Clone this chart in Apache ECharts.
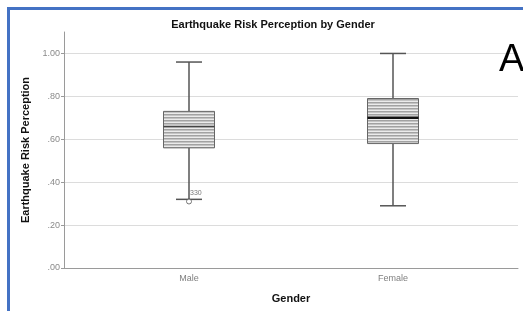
<!DOCTYPE html>
<html>
<head>
<meta charset="utf-8">
<script src="https://cdn.jsdelivr.net/npm/echarts@6/dist/echarts.min.js"></script>
<style>
  html, body { margin: 0; padding: 0; background: #fff; }
  #chart { width: 523px; height: 311px; }
</style>
</head>
<body>
<div id="chart"></div>
<script>
// 数据
const categories = ['Male', 'Female'];
// [min, q1, median, q3, max]
const boxMale = [0.32, 0.56, 0.66, 0.73, 0.96];
const boxFemale = [0.29, 0.58, 0.70, 0.79, 1.00];
const outlierValues = [0.31];
const outlierCats = [0];
const outlierLabels = ['330'];
const yTicks = [0, 0.2, 0.4, 0.6, 0.8, 1.0];
const yTickLabels = ['.00', '.20', '.40', '.60', '.80', '1.00'];

const boxes = [boxMale, boxFemale];

// 横条纹填充
const makeHatch = () => {
  const c = document.createElement('canvas');
  c.width = 4;
  c.height = 3;
  const ctx = c.getContext('2d');
  ctx.fillStyle = '#ebebeb';
  ctx.fillRect(0, 0, 4, 3);
  ctx.fillStyle = '#a2a2a2';
  ctx.fillRect(0, 0, 4, 1);
  ctx.fillStyle = '#c4c4c4';
  ctx.fillRect(0, 1, 4, 1);
  return c;
};
const hatch = makeHatch();

const chart = echarts.init(document.getElementById('chart'));

const gridTop = 32;
const gridBottom = 43;

const option = {
  backgroundColor: '#fff',
  animation: false,
  title: {
    text: 'Earthquake Risk Perception by Gender',
    left: 268,
    top: 14,
    textAlign: 'center',
    textStyle: {color: '#111', fontSize: 11, fontWeight: 'bold', fontFamily: 'Liberation Sans'}
  },
  graphic: [
    {
      type: 'rect',
      shape: {x: 8.5, y: 8.5, width: 560, height: 340},
      style: {fill: 'none', stroke: '#4472C4', lineWidth: 3},
      z: 100
    },
    {
      type: 'text',
      left: 499,
      top: 42,
      style: {text: 'A', fill: '#000', font: '38px "Liberation Sans"'},
      z: 100
    }
  ],
  grid: [
    {left: 64, right: 5, top: gridTop, bottom: gridBottom},
    {left: 87, right: 28, top: gridTop, bottom: gridBottom}
  ],
  xAxis: [
    {
      gridIndex: 0,
      type: 'value',
      min: 0,
      max: 1,
      axisLine: {show: true, lineStyle: {color: '#9a9a9a', width: 1}},
      axisTick: {show: false},
      axisLabel: {show: false},
      splitLine: {show: false}
    },
    {
      gridIndex: 1,
      type: 'category',
      data: categories,
      name: 'Gender',
      nameLocation: 'middle',
      nameGap: 25,
      nameTextStyle: {color: '#111', fontSize: 11, fontWeight: 'bold', fontFamily: 'Liberation Sans'},
      axisLine: {show: false},
      axisTick: {show: false},
      axisLabel: {color: '#7f7f7f', fontSize: 9, fontFamily: 'Liberation Sans', margin: 6},
      splitLine: {show: false}
    }
  ],
  yAxis: [
    {
      gridIndex: 0,
      type: 'value',
      min: 0,
      max: 1.1,
      name: 'Earthquake Risk Perception',
      nameLocation: 'middle',
      nameGap: 30,
      nameTextStyle: {color: '#111', fontSize: 11, fontWeight: 'bold', fontFamily: 'Liberation Sans'},
      axisLine: {show: true, lineStyle: {color: '#9a9a9a', width: 1}},
      axisTick: {show: true, length: 3, customValues: yTicks, lineStyle: {color: '#9a9a9a'}},
      axisLabel: {
        color: '#8a8a8a', fontSize: 9, fontFamily: 'Liberation Sans', margin: 4,
        customValues: yTicks,
        formatter: v => yTickLabels[yTicks.findIndex(t => Math.abs(t - v) < 1e-6)] ?? ''
      },
      splitLine: {show: true, lineStyle: {color: '#dcdcdc', width: 1}}
    },
    {
      gridIndex: 1,
      type: 'value',
      min: 0,
      max: 1.1,
      show: false,
      splitLine: {show: false}
    }
  ],
  series: [
    {
      type: 'custom',
      xAxisIndex: 1,
      yAxisIndex: 1,
      data: boxes.map((b, i) => [i, ...b]),
      renderItem: (params, api) => {
        const i = api.value(0);
        const x = api.coord([i, 0])[0];
        const yMin = api.coord([i, api.value(1)])[1];
        const yQ1 = api.coord([i, api.value(2)])[1];
        const yMed = api.coord([i, api.value(3)])[1];
        const yQ3 = api.coord([i, api.value(4)])[1];
        const yMax = api.coord([i, api.value(5)])[1];
        const hw = 25.5;
        const cw = 13;
        const lineStyle = {stroke: '#555', lineWidth: 1.5};
        return {
          type: 'group',
          children: [
            {type: 'line', shape: {x1: x, y1: yMax, x2: x, y2: yQ3}, style: lineStyle},
            {type: 'line', shape: {x1: x, y1: yQ1, x2: x, y2: yMin}, style: lineStyle},
            {type: 'line', shape: {x1: x - cw, y1: yMax, x2: x + cw, y2: yMax}, style: lineStyle},
            {type: 'line', shape: {x1: x - cw, y1: yMin, x2: x + cw, y2: yMin}, style: lineStyle},
            {
              type: 'rect',
              shape: {x: x - hw, y: yQ3, width: hw * 2, height: yQ1 - yQ3},
              style: {fill: {image: hatch, repeat: 'repeat'}, stroke: '#666', lineWidth: 1}
            },
            {
              type: 'line',
              shape: {x1: x - hw, y1: yMed, x2: x + hw, y2: yMed},
              style: {stroke: i === 0 ? '#444' : '#111', lineWidth: i === 0 ? 1.5 : 2.5}
            }
          ]
        };
      }
    },
    {
      type: 'scatter',
      xAxisIndex: 1,
      yAxisIndex: 1,
      data: outlierValues.map((v, k) => ({value: [outlierCats[k], v], name: outlierLabels[k]})),
      symbol: 'circle',
      symbolSize: 5,
      itemStyle: {color: '#fff', borderColor: '#555', borderWidth: 1},
      label: {
        show: true,
        formatter: p => p.name,
        position: [4, -9],
        color: '#555',
        fontSize: 7,
        fontFamily: 'Liberation Sans'
      },
      z: 5
    }
  ]
};

chart.setOption(option);
</script>
</body>
</html>
